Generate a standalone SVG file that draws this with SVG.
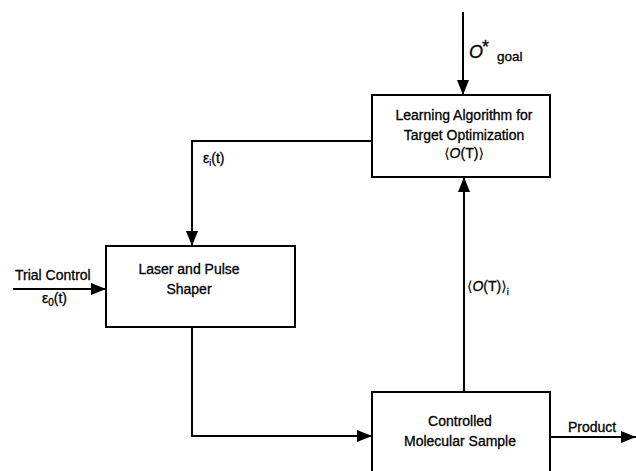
<svg xmlns="http://www.w3.org/2000/svg" width="636" height="471" viewBox="0 0 636 471">
<defs>
<style>
.box{fill:#fff;stroke:#000;stroke-width:2}
.edge{fill:none;stroke:#000;stroke-width:2}
text{font-family:"Liberation Sans","DejaVu Sans",Arial,sans-serif;font-size:14px;fill:#000;stroke:#000;stroke-width:0.3}
.c{text-anchor:middle}
.br{font-family:"DejaVu Sans","Liberation Sans",sans-serif;font-size:14px;stroke-width:0.1}
</style>
<marker id="arr" markerUnits="userSpaceOnUse" markerWidth="15" markerHeight="12" refX="15" refY="6" orient="auto">
<path d="M0,0 L15,6 L0,12 z" fill="#000"/>
</marker>
</defs>
<rect width="636" height="471" fill="#fff"/>
<g id="connectors">
<path class="edge" d="M463,12 V95" marker-end="url(#arr)"/>
<path class="edge" d="M372,141 H192 V246" marker-end="url(#arr)"/>
<path class="edge" d="M13,289 H106" marker-end="url(#arr)"/>
<path class="edge" d="M192,327 V436 H372" marker-end="url(#arr)"/>
<path class="edge" d="M464,392 V177" marker-end="url(#arr)"/>
<path class="edge" d="M550,437 H636" marker-end="url(#arr)"/>
</g>
<g id="labels">
<text x="469" y="58" style="font-size:18px;font-style:italic">O</text>
<text x="482" y="53" style="font-size:18px">*</text>
<text x="497" y="61" style="font-size:13.5px">goal</text>
<text x="203" y="163">ε<tspan dy="3" style="font-size:9px">i</tspan><tspan dy="-3">(t)</tspan></text>
<text x="15" y="280">Trial Control</text>
<text x="42" y="303">ε<tspan dy="3" style="font-size:10px">0</tspan><tspan dy="-3">(t)</tspan></text>
<text x="467" y="291"><tspan class="br">⟨</tspan><tspan font-style="italic">O</tspan>(T)<tspan class="br">⟩</tspan><tspan dy="4" style="font-size:9px">i</tspan></text>
<text x="568" y="432">Product</text>
</g>
<g id="learning">
<rect class="box" x="372" y="95" width="178" height="82"/>
<text class="c" x="464" y="120">Learning Algorithm for</text>
<text class="c" x="464" y="140">Target Optimization</text>
<text class="c" x="464" y="158"><tspan class="br">⟨</tspan><tspan font-style="italic">O</tspan>(T)<tspan class="br">⟩</tspan></text>
</g>
<g id="laser">
<rect class="box" x="106" y="246" width="189" height="81"/>
<text class="c" x="189" y="274">Laser and Pulse</text>
<text class="c" x="189" y="294">Shaper</text>
</g>
<g id="sample">
<rect class="box" x="372" y="392" width="178" height="90"/>
<text class="c" x="460" y="426">Controlled</text>
<text class="c" x="460" y="446">Molecular Sample</text>
</g>
</svg>
